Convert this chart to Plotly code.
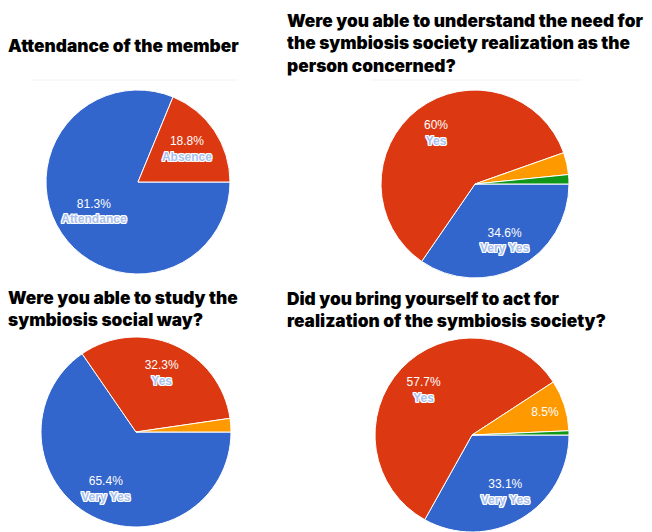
import plotly.graph_objects as go

OFF = 8  # default page (body) margin of the html page
W, H = 652 - OFF, 532 - OFF

# ---- data ----
titles = [
    "Attendance of the member",
    "Were you able to understand the need for<br>the symbiosis society realization as the<br>person concerned?",
    "Were you able to study the<br>symbiosis social way?",
    "Did you bring yourself to act for<br>realization of the symbiosis society?",
]
labels1 = ["Attendance", "Absence"]
values1 = [81.3, 18.8]
labels2 = ["Very Yes", "Yes", "Somewhat", "No"]
values2 = [34.6, 60.0, 3.8, 1.6]
labels3 = ["Very Yes", "Yes", "Somewhat"]
values3 = [65.4, 32.3, 2.3]
labels4 = ["Very Yes", "Yes", "Somewhat", "No"]
values4 = [33.1, 57.7, 8.5, 0.7]
pct_text1 = ["81.3%", "18.8%"]
pct_text2 = ["34.6%", "60%", "", ""]
pct_text3 = ["65.4%", "32.3%", ""]
pct_text4 = ["33.1%", "57.7%", "8.5%", ""]
show_label1 = [True, True]
show_label2 = [True, True, False, False]
show_label3 = [True, True, False]
show_label4 = [True, True, False, False]

COLORS = ["#3366cc", "#dc3912", "#ff9900", "#109618"]
LABEL_STYLE = ("color:#a9c1ef;text-shadow:1px 0 0 #fff,-1px 0 0 #fff,0 1px 0 #fff,"
               "0 -1px 0 #fff,1px 1px 0 #fff,-1px -1px 0 #fff,1px -1px 0 #fff,-1px 1px 0 #fff")

# layout: (cx, cy, r) in page pixels, plus label hole (pushes labels outward)
pies = [
    (labels1, values1, pct_text1, show_label1, (138, 182, 92), 0.15),
    (labels2, values2, pct_text2, show_label2, (475, 184, 94), 0.36),
    (labels3, values3, pct_text3, show_label3, (136, 432, 95), 0.36),
    (labels4, values4, pct_text4, show_label4, (472, 435, 97), 0.36),
]
title_pos = [(9, 46), (288, 43), (9, 308), (288, 309)]

fig = go.Figure()
for labs, vals, pct, show, (cx, cy, r), hole in pies:
    cx, cy = cx - OFF, cy - OFF
    texts = []
    for l, p, s in zip(labs, pct, show):
        if p and s:
            texts.append(f"{p}<br><b><span style='{LABEL_STYLE}'>{l}</span></b>")
        else:
            texts.append(p)
    dom = dict(x=[(cx - r) / W, (cx + r) / W],
               y=[max(0.0, 1 - (cy + r) / H), min(1.0, 1 - (cy - r) / H)])
    common = dict(labels=labs, values=vals, sort=False, direction="clockwise", rotation=90,
                  domain=dom, showlegend=False)
    # coloured pie
    fig.add_trace(go.Pie(
        **common, textinfo="none", hoverinfo="label+percent",
        marker=dict(colors=COLORS[:len(labs)], line=dict(color="white", width=1))))
    # transparent copy carrying the labels, placed further out from the centre
    fig.add_trace(go.Pie(
        **common, hole=hole, text=texts, textinfo="text", hoverinfo="skip",
        marker=dict(colors=["rgba(0,0,0,0)"] * len(labs), line=dict(width=0)),
        textposition="inside", insidetextorientation="horizontal",
        textfont=dict(family="Liberation Sans", size=12, color="white")))

for t, (x, y) in zip(titles, title_pos):
    fig.add_annotation(text=t, x=(x - OFF - 3) / W, y=1 - (y - OFF) / H, xref="paper", yref="paper",
                       xanchor="left", yanchor="middle", align="left", showarrow=False,
                       font=dict(family="Inter", size=17.3, color="black", weight=900))

for x0, x1, y in [(32, 238, 80), (370, 582, 80)]:
    fig.add_shape(type="line", xref="paper", yref="paper", x0=(x0 - OFF) / W, x1=(x1 - OFF) / W,
                  y0=1 - (y - OFF) / H, y1=1 - (y - OFF) / H, line=dict(color="#f2f2f2", width=1))

fig.update_layout(width=W, height=H, margin=dict(l=0, r=0, t=0, b=0),
                  paper_bgcolor="white", plot_bgcolor="white",
                  uniformtext=dict(minsize=12, mode="show"))
fig.write_html("out.html")
